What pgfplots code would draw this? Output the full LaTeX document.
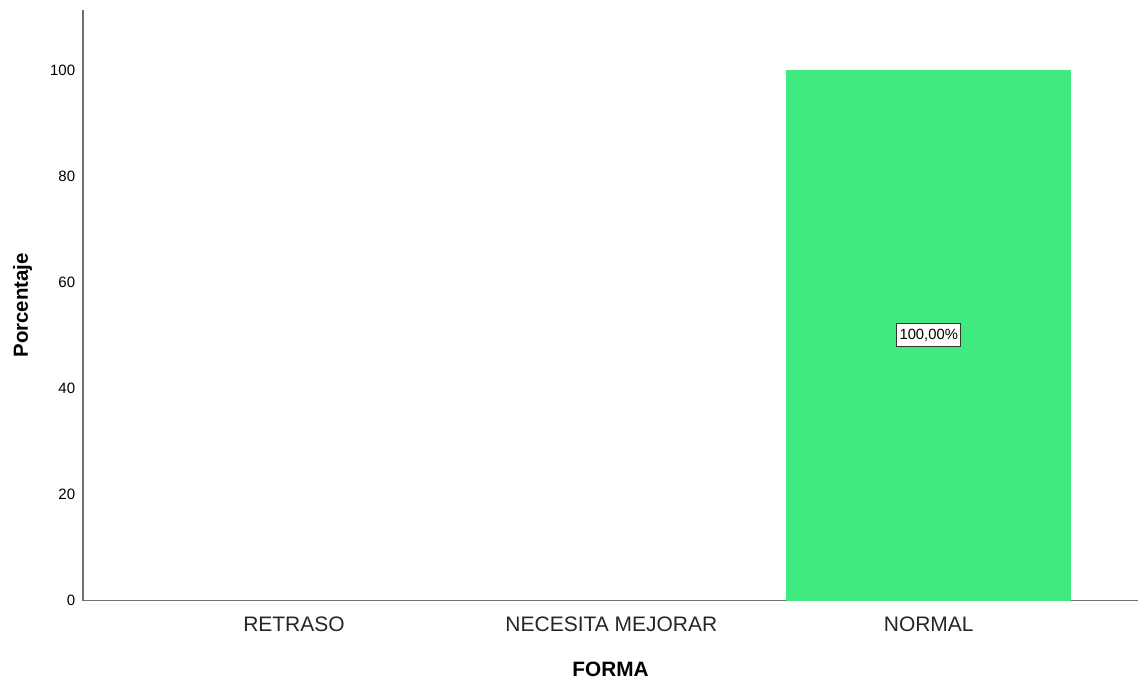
\documentclass[border=0pt]{standalone}
\usepackage{fontspec}
\setmainfont{Liberation Sans}
\usepackage{pgfplots}
\pgfplotsset{compat=1.18}
\definecolor{barfill}{RGB}{64,234,128}
\definecolor{axisgray}{RGB}{112,112,112}
\begin{document}
\begin{tikzpicture}
\begin{axis}[
    at={(0,0)}, anchor=south west,
    scale only axis,
    width=528pt, height=295.5pt,
    xmin=-0.665, xmax=2.66,
    ymin=0, ymax=111.3,
    axis lines*=left,
    axis line style={-, axisgray, line width=0.8pt},
    xtick={0,1,2},
    xticklabels={RETRASO, NECESITA MEJORAR, NORMAL},
    ytick={0,20,40,60,80,100},
    major tick length=0pt,
    /pgf/number format/assume math mode=true,
    xticklabel style={font=\fontsize{10.5}{12}\selectfont, text=black!85, anchor=base, yshift=-15.3pt},
    yticklabel style={font=\fontsize{7.5}{9}\selectfont, anchor=east, inner sep=0pt, xshift=-3.7pt},
    xlabel={FORMA},
    ylabel={Porcentaje},
    xlabel style={font=\bfseries\fontsize{10.4}{12}\selectfont, at={(axis description cs:0.5,0)}, anchor=base, yshift=-38pt},
    ylabel style={font=\bfseries\fontsize{10.2}{12}\selectfont, at={([xshift=-27.5pt]axis description cs:0,0.5)}, anchor=base, rotate=0},
    clip=false,
]
% categories without cases (0 %), nothing to draw
\addplot[ybar, bar width=142.5pt, fill=none, draw=none] coordinates {(0,0) (1,0)};
\addplot[ybar, bar width=142.5pt, fill=barfill, draw=none,
    nodes near coords={\pgfmathprintnumber[fixed,fixed zerofill,precision=2,use comma]{\pgfplotspointmeta}\%},
    nodes near coords style={font=\fontsize{7.4}{9}\selectfont, anchor=center, yshift=-132.75pt,
        fill=white, draw=black!80, line width=0.5pt, inner xsep=1.5pt, inner ysep=2.8pt},
] coordinates {(2,100)};
\end{axis}
\path[use as bounding box] (-41.5pt,-39.5pt) rectangle (528pt,300.5pt);
\end{tikzpicture}
\end{document}
